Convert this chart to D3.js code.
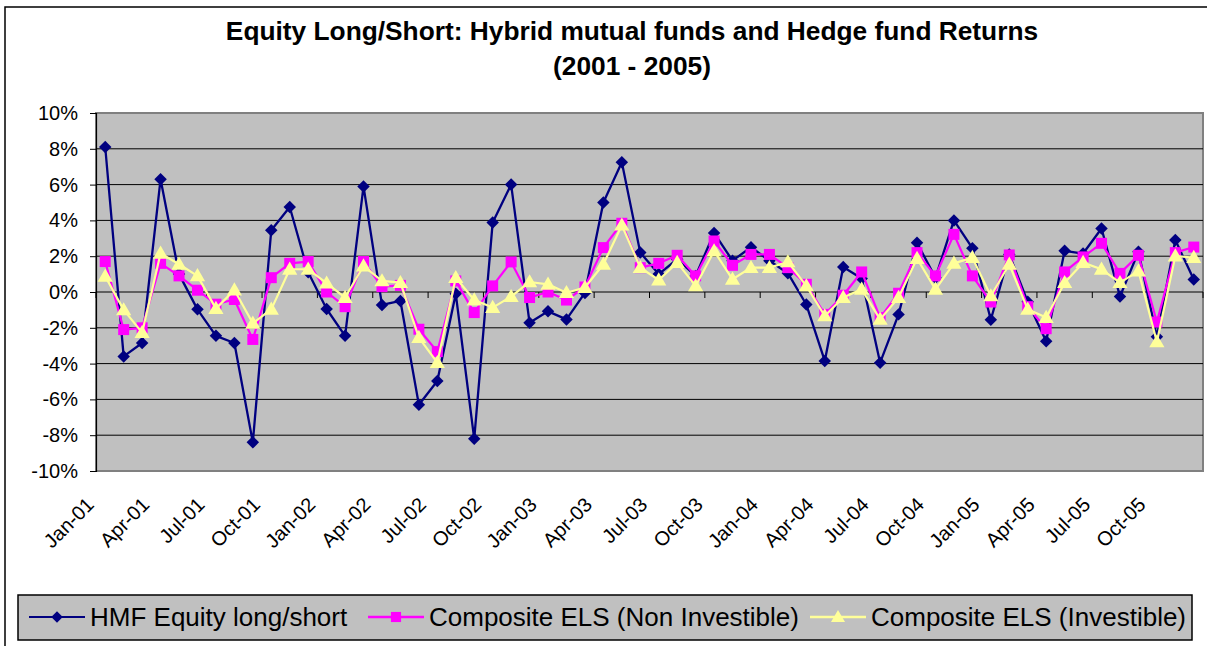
<!DOCTYPE html>
<html><head><meta charset="utf-8">
<script src="https://cdn.jsdelivr.net/npm/d3@7"></script>
<style>
html,body{margin:0;padding:0;background:#fff;}
text{font-family:"Liberation Sans",Arial,sans-serif;}
</style></head>
<body><svg id="chart" width="1207" height="646"></svg>
<script>
// ---- data ----
const years = ["01","02","03","04","05"];
const monthNames = ["Jan","Feb","Mar","Apr","May","Jun","Jul","Aug","Sep","Oct","Nov","Dec"];
const categories = years.flatMap(y => monthNames.map(m => m + "-" + y));
const tickLabels = categories.filter((c, i) => i % 3 === 0);
const yTicks = [-10,-8,-6,-4,-2,0,2,4,6,8,10];

const hmf = [8.1,-3.6,-2.85,6.3,1.0,-0.97,-2.45,-2.85,-8.4,3.45,4.75,1.1,
  -0.95,-2.45,5.9,-0.72,-0.5,-6.3,-4.97,-0.1,-8.2,3.88,6.0,-1.72,
  -1.08,-1.53,-0.05,5.0,7.25,2.2,1.0,1.83,0.9,3.3,1.75,2.5,
  1.75,1.05,-0.7,-3.85,1.4,0.75,-3.95,-1.25,2.75,0.8,4.0,2.45,
  -1.55,2.1,-0.55,-2.75,2.3,2.15,3.55,-0.25,2.25,-2.5,2.9,0.7];
const nonInv = [1.7,-2.1,-2.0,1.6,0.9,0.1,-0.68,-0.42,-2.65,0.8,1.6,1.7,
  0.0,-0.82,1.7,0.3,0.37,-2.08,-3.33,0.62,-1.15,0.34,1.68,-0.31,
  0.0,-0.45,0.28,2.48,3.84,1.36,1.6,2.05,0.9,2.85,1.49,2.1,
  2.1,1.36,0.43,-1.25,-0.18,1.12,-1.43,-0.07,2.2,0.9,3.22,0.9,
  -0.56,2.07,-0.82,-2.05,1.12,1.96,2.72,1.04,2.05,-1.68,2.2,2.51];
const inv = [0.88,-1.0,-2.27,2.16,1.55,0.9,-0.93,0.11,-1.75,-0.97,1.27,1.27,
  0.49,-0.31,1.45,0.62,0.52,-2.55,-3.95,0.8,-0.45,-0.87,-0.26,0.56,
  0.43,-0.04,0.25,1.55,3.73,1.36,0.67,1.64,0.34,2.29,0.71,1.36,
  1.36,1.68,0.34,-1.34,-0.31,0.15,-1.53,-0.31,1.87,0.15,1.6,1.92,
  -0.22,1.55,-0.97,-1.43,0.52,1.64,1.27,0.52,1.17,-2.79,2.01,1.92];

const seriesNames = ["HMF Equity long/short","Composite ELS (Non Investible)","Composite ELS (Investible)"];

// ---- layout ----
const svg = d3.select("#chart");
const plot = {left:96, right:1203, top:113, bottom:471};

svg.append("rect").attr("x",5).attr("y",7).attr("width",1215).attr("height",660)
  .attr("fill","#fff").attr("stroke","#000").attr("stroke-width",1.5);

const x = d3.scaleBand().domain(d3.range(categories.length)).range([plot.left, plot.right]).padding(0);
const cx = i => x(i) + x.bandwidth()/2;
const y = d3.scaleLinear().domain([-10,10]).range([plot.bottom, plot.top]);

// title
const title = svg.append("text").attr("text-anchor","middle").attr("font-weight","bold")
  .attr("font-size",26.3).attr("fill","#000");
title.append("tspan").attr("x",632).attr("y",40).text("Equity Long/Short: Hybrid mutual funds and Hedge fund Returns");
title.append("tspan").attr("x",632).attr("y",75).text("(2001 - 2005)");

// plot background
svg.append("rect").attr("x",plot.left).attr("y",plot.top)
  .attr("width",plot.right-plot.left).attr("height",plot.bottom-plot.top)
  .attr("fill","#c0c0c0").attr("stroke","#808080").attr("stroke-width",2);

// gridlines
svg.append("g").selectAll("line").data(yTicks.filter(t => t !== -10 && t !== 10 && t !== 0)).join("line")
  .attr("x1",plot.left).attr("x2",plot.right).attr("y1",d=>y(d)).attr("y2",d=>y(d))
  .attr("stroke","#000").attr("stroke-width",1);

// y axis
const yAxis = d3.axisLeft(y).tickValues(yTicks).tickFormat(d => d + "%").tickSize(6).tickPadding(12);
const gy = svg.append("g").attr("transform",`translate(${plot.left},0)`).call(yAxis);
gy.select(".domain").attr("stroke","#000").attr("stroke-width",1.2);
gy.selectAll(".tick line").attr("stroke","#000");
gy.selectAll("text").attr("font-size",20).attr("fill","#000").attr("font-family","Liberation Sans, Arial, sans-serif");

// x axis along zero line
const tickBoundaries = d3.range(0, categories.length+1, 3).map(i => plot.left + i*x.bandwidth());
svg.append("line").attr("x1",plot.left).attr("x2",plot.right).attr("y1",y(0)).attr("y2",y(0))
  .attr("stroke","#000").attr("stroke-width",1.2);
svg.append("g").selectAll("line").data(tickBoundaries).join("line")
  .attr("x1",d=>d).attr("x2",d=>d).attr("y1",y(0)).attr("y2",y(0)+6)
  .attr("stroke","#000").attr("stroke-width",1);

// x labels
svg.append("g").selectAll("text").data(tickLabels).join("text")
  .attr("transform",(d)=>`translate(${cx(categories.indexOf(d))-10},${plot.bottom+35}) rotate(-45)`)
  .attr("text-anchor","end").attr("font-size",20).attr("fill","#000").text(d=>d);

// series
const seriesData = [hmf, nonInv, inv];
const styles = [
  {stroke:"#000080", fill:"#000080", width:2.3, symbol:d3.symbolSquare, size:78, rot:45},
  {stroke:"#ff00ff", fill:"#ff00ff", width:2.2, symbol:d3.symbolSquare, size:121, rot:0},
  {stroke:"#ffff99", fill:"#ffff99", width:2.2, symbol:d3.symbolTriangle, size:100, rot:0}
];
const line = d3.line().x((d,i)=>cx(i)).y(d=>y(d));
seriesData.forEach((vals, si) => {
  const st = styles[si];
  const g = svg.append("g");
  g.append("path").datum(vals).attr("d",line).attr("fill","none")
    .attr("stroke",st.stroke).attr("stroke-width",st.width).attr("stroke-linejoin","round");
  g.selectAll("path.m").data(vals).join("path").attr("class","m")
    .attr("d",d3.symbol(st.symbol, st.size))
    .attr("transform",(d,i)=>`translate(${cx(i)},${y(d)+(si===2?1:0)}) rotate(${st.rot})`)
    .attr("fill",st.fill);
});

// legend
const lg = svg.append("g");
lg.append("rect").attr("x",18).attr("y",595).attr("width",1174).attr("height",45)
  .attr("fill","#c0c0c0").attr("stroke","#000").attr("stroke-width",1.5);
const legendX = [29, 368, 810];
seriesNames.forEach((name, si) => {
  const st = styles[si];
  const lx = legendX[si];
  lg.append("line").attr("x1",lx).attr("x2",lx+56).attr("y1",617).attr("y2",617)
    .attr("stroke",st.stroke).attr("stroke-width",si===0?2:2.5);
  lg.append("path").attr("d",d3.symbol(st.symbol, st.size*0.85))
    .attr("transform",`translate(${lx+28},${617+(si===2?1:0)}) rotate(${st.rot})`).attr("fill",st.fill);
  lg.append("text").attr("x",lx+61).attr("y",626).attr("font-size",26).attr("fill","#000").text(name);
});
</script></body></html>
